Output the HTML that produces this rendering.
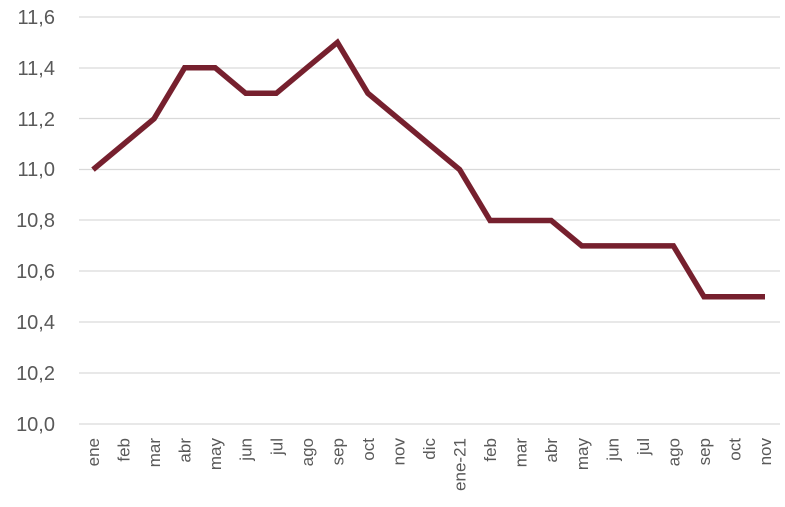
<!DOCTYPE html>
<html><head><meta charset="utf-8"><style>
html,body{margin:0;padding:0;background:#fff;}
svg text{font-family:"Liberation Sans",Calibri,sans-serif;fill:#595959;}
</style></head><body>
<svg width="785" height="502" xmlns="http://www.w3.org/2000/svg">
<g stroke="#d9d9d9" stroke-width="1.3">
<line x1="79" x2="780" y1="17" y2="17"/>
<line x1="79" x2="780" y1="68" y2="68"/>
<line x1="79" x2="780" y1="118.5" y2="118.5"/>
<line x1="79" x2="780" y1="169.5" y2="169.5"/>
<line x1="79" x2="780" y1="220" y2="220"/>
<line x1="79" x2="780" y1="271" y2="271"/>
<line x1="79" x2="780" y1="322" y2="322"/>
<line x1="79" x2="780" y1="373" y2="373"/>
<line x1="79" x2="780" y1="424" y2="424"/>
</g>
<g font-size="20" text-anchor="end">
<text x="55" y="24">11,6</text>
<text x="55" y="75">11,4</text>
<text x="55" y="126">11,2</text>
<text x="55" y="176">11,0</text>
<text x="55" y="227">10,8</text>
<text x="55" y="278">10,6</text>
<text x="55" y="329">10,4</text>
<text x="55" y="380">10,2</text>
<text x="55" y="431">10,0</text>
</g>
<polyline fill="none" stroke="#76202e" stroke-width="5.5" stroke-linejoin="miter"
points="93,169.6 123.5,144.2 154.1,118.7 184.6,67.8 215.2,67.8 245.7,93.3 276.3,93.3 306.8,67.8 337.4,42.4 367.9,93.3 398.5,118.7 429,144.2 459.6,169.6 490.1,220.5 520.7,220.5 551.2,220.5 581.8,245.9 612.3,245.9 642.9,245.9 673.4,245.9 704,296.8 734.5,296.8 765,296.8"/>
<g font-size="17" text-anchor="end">
<text transform="translate(99,438) rotate(-90)">ene</text>
<text transform="translate(129.5,438) rotate(-90)">feb</text>
<text transform="translate(160.1,438) rotate(-90)">mar</text>
<text transform="translate(190.6,438) rotate(-90)">abr</text>
<text transform="translate(221.2,438) rotate(-90)">may</text>
<text transform="translate(251.7,438) rotate(-90)">jun</text>
<text transform="translate(282.3,438) rotate(-90)">jul</text>
<text transform="translate(312.8,438) rotate(-90)">ago</text>
<text transform="translate(343.4,438) rotate(-90)">sep</text>
<text transform="translate(373.9,438) rotate(-90)">oct</text>
<text transform="translate(404.5,438) rotate(-90)">nov</text>
<text transform="translate(435,438) rotate(-90)">dic</text>
<text transform="translate(465.6,438) rotate(-90)">ene-21</text>
<text transform="translate(496.1,438) rotate(-90)">feb</text>
<text transform="translate(526.7,438) rotate(-90)">mar</text>
<text transform="translate(557.2,438) rotate(-90)">abr</text>
<text transform="translate(587.8,438) rotate(-90)">may</text>
<text transform="translate(618.3,438) rotate(-90)">jun</text>
<text transform="translate(648.9,438) rotate(-90)">jul</text>
<text transform="translate(679.4,438) rotate(-90)">ago</text>
<text transform="translate(710,438) rotate(-90)">sep</text>
<text transform="translate(740.5,438) rotate(-90)">oct</text>
<text transform="translate(771,438) rotate(-90)">nov</text>
</g>
</svg>
</body></html>
